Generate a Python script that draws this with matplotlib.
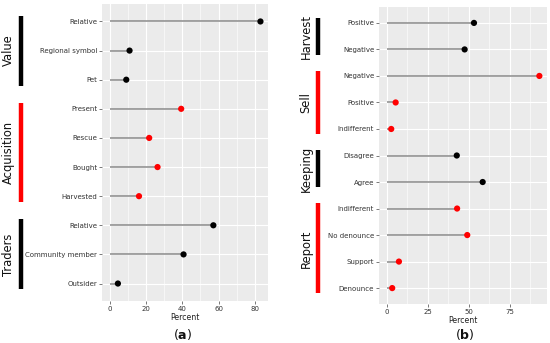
import matplotlib
matplotlib.use("Agg")
import matplotlib.pyplot as plt
from matplotlib.transforms import blended_transform_factory
from matplotlib.ticker import MultipleLocator

# Panel (a)
a_groups = ["Value", "Acquisition", "Traders"]
a_group_colors = ["black", "red", "black"]
a_labels = [["Relative", "Regional symbol", "Pet"],
            ["Present", "Rescue", "Bought", "Harvested"],
            ["Relative", "Community member", "Outsider"]]
a_values = [[83.0, 11.0, 9.2],
            [39.4, 21.8, 26.4, 16.2],
            [57.1, 40.7, 4.6]]

# Panel (b)
b_groups = ["Harvest", "Sell", "Keeping", "Report"]
b_group_colors = ["black", "red", "black", "red"]
b_labels = [["Positive", "Negative"],
            ["Negative", "Positive", "Indifferent"],
            ["Disagree", "Agree"],
            ["Indifferent", "No denounce", "Support", "Denounce"]]
b_values = [[53.3, 47.6],
            [93.2, 5.5, 2.8],
            [42.8, 58.6],
            [43.0, 49.2, 7.5, 3.4]]

W, H = 550, 343
fig = plt.figure(figsize=(W / 100, H / 100), dpi=100)

def px_rect(x0, y0, x1, y1):
    return [x0 / W, (H - y1) / H, (x1 - x0) / W, (y1 - y0) / H]

def panel(rect, groups, gcolors, labels, values, major, minor, bar_x, text_x, tag, tag_x):
    ax = fig.add_axes(rect)
    ax.set_facecolor("#EBEBEB")
    names, vals, cols, spans = [], [], [], []
    i = 0
    for g, c, labs, vs in zip(groups, gcolors, labels, values):
        start = i
        for l, v in zip(labs, vs):
            names.append(l); vals.append(v); cols.append(c)
            i += 1
        spans.append((start, i - 1))
    ys = list(range(len(names)))
    ax.hlines(ys, 0, vals, color="#8a8a8a", lw=1.1, zorder=2)
    ax.scatter(vals, ys, c=cols, s=20, zorder=3, linewidths=0)
    n = len(names)
    ax.set_ylim(n - 1 + 0.6, -0.6)
    vmax = max(vals)
    ax.set_xlim(-0.05 * vmax, vmax * 1.05)
    ax.set_yticks(ys)
    ax.set_yticklabels(names)
    ax.xaxis.set_major_locator(MultipleLocator(major))
    ax.xaxis.set_minor_locator(MultipleLocator(minor))
    ax.grid(True, which="major", color="white", lw=0.8)
    ax.grid(True, which="minor", axis="x", color="white", lw=0.4)
    ax.set_axisbelow(True)
    for s in ax.spines.values():
        s.set_visible(False)
    ax.tick_params(axis="both", which="major", labelsize=5.0, colors="#444444",
                   labelcolor="#333333", length=2, width=0.5, pad=1.5)
    ax.tick_params(which="minor", length=0)
    ax.set_xlabel("Percent", fontsize=5.6, color="#222222", labelpad=1)
    tr = blended_transform_factory(fig.transFigure, ax.transData)
    for g, c, (s0, s1) in zip(groups, gcolors, spans):
        ax.plot([bar_x / W, bar_x / W], [s0 - 0.2, s1 + 0.2], transform=tr,
                color=c, lw=3.2, solid_capstyle="butt", clip_on=False)
        ax.text(text_x / W, (s0 + s1) / 2, g, transform=tr, rotation=90,
                ha="center", va="center", fontsize=8.3, color="#111111")
    fig.text(tag_x / W, (H - 334) / H, r"($\mathbf{" + tag + r"}$)", fontsize=9,
             ha="center", va="center", color="#111111")
    return ax

axa = panel(px_rect(102, 4, 268, 301), a_groups, a_group_colors, a_labels, a_values,
            20, 10, 21, 8, "a", 183)
axb = panel(px_rect(379, 7, 547, 304), b_groups, b_group_colors, b_labels, b_values,
            25, 12.5, 318, 306, "b", 465)

fig.savefig("out.png", dpi=100)
